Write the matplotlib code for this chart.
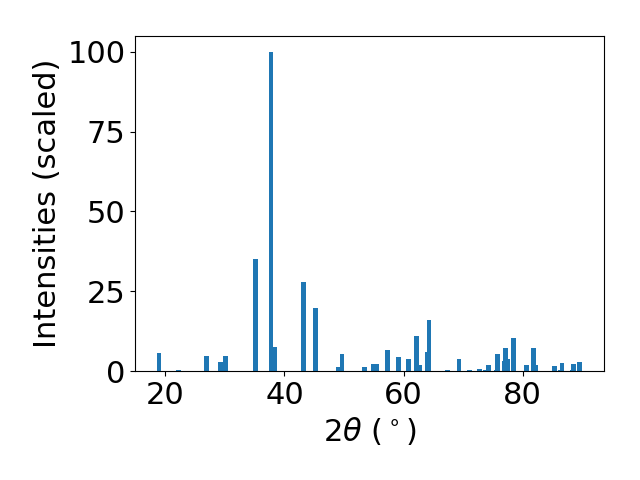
import numpy as np
import matplotlib
matplotlib.use('Agg')
import matplotlib.pyplot as plt

# peak positions (2theta, deg) and scaled intensities
two_theta = [18.94, 22.18, 26.89, 29.24, 30.08, 35.13, 37.76, 38.44, 43.19, 45.21,
             49.08, 49.65, 53.45, 54.96, 55.46, 57.31, 59.16, 60.84, 62.18, 62.76,
             64.03, 64.29, 67.39, 69.36, 71.09, 72.77, 73.68, 74.29, 75.63, 75.80,
             76.97, 77.14, 77.55, 78.49, 80.62, 81.85, 82.18, 85.38, 86.39, 86.59,
             88.40, 88.52, 89.58]
intensity = [5.6, 0.3, 4.7, 2.8, 4.7, 35.1, 100.0, 7.5, 27.9, 19.7,
             1.3, 5.3, 1.3, 2.2, 2.2, 6.6, 4.4, 3.8, 11.0, 1.9,
             6.0, 16.0, 0.3, 3.8, 0.3, 0.6, 0.3, 1.9, 0.3, 5.3,
             3.1, 7.2, 3.8, 10.3, 1.9, 7.2, 1.9, 1.6, 0.3, 2.5,
             0.3, 2.2, 2.8]

plt.rcParams['font.size'] = 22

fig, ax = plt.subplots(figsize=(6.4, 4.8), dpi=100)
ax.bar(two_theta, intensity, width=0.75)
ax.set_xlim(14.9, 93.7)
ax.set_xlabel(r'$2\theta$ ($^\circ$)')
ax.set_ylabel('Intensities (scaled)')
fig.subplots_adjust(left=0.211, right=0.944, bottom=0.227, top=0.925)
plt.savefig('out.png')
